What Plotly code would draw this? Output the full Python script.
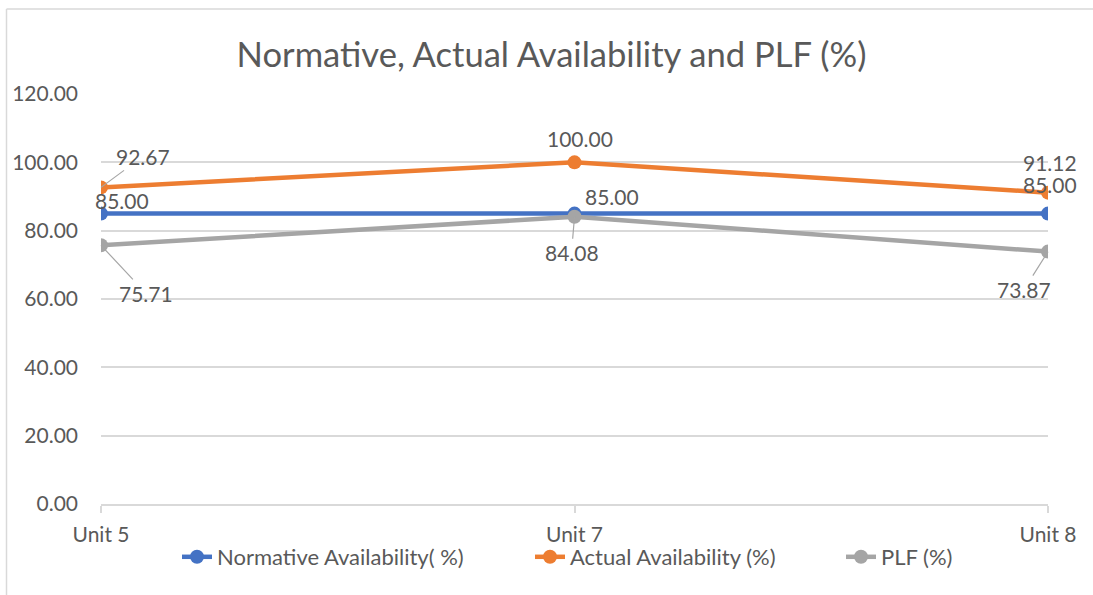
import plotly.graph_objects as go

categories = ["Unit 5", "Unit 7", "Unit 8"]
normative = [85.00, 85.00, 85.00]
actual = [92.67, 100.00, 91.12]
plf = [75.71, 84.08, 73.87]
y_ticks = [0, 20, 40, 60, 80, 100, 120]

FONT = "Lato"
TXT = "#595959"
W, H = 1093, 595
L, R, T, B = 101, 1048, 94, 504

series = [
    ("Normative Availability( %)", normative, "#4472C4"),
    ("Actual Availability (%)", actual, "#ED7D31"),
    ("PLF (%)", plf, "#A5A5A5"),
]
legend_ids = ["legend", "legend2", "legend3"]
legend_text_start = [218, 571, 882]

fig = go.Figure()
for (name, vals, col), lid in zip(series, legend_ids):
    fig.add_trace(go.Scatter(
        x=categories, y=vals, name=name, mode="lines+markers",
        line=dict(color=col, width=4.5),
        marker=dict(color=col, size=14),
        legend=lid,
    ))

# label placement styles: (dx, dy) in pixels (dy down positive), leader line flag
label_style = {
    "Normative Availability( %)": [(21, -13, False), (37, -17, False), (2, -29, False)],
    "Actual Availability (%)": [(42, -31, True), (5, -24, False), (2, -30, False)],
    "PLF (%)": [(45, 48, True), (-3, 36, True), (-24, 38, True)],
}

for name, vals, col in series:
    for i, (cat, v) in enumerate(zip(categories, vals)):
        dx, dy, lead = label_style[name][i]
        if lead:
            fig.add_annotation(
                x=cat, y=v, text=f"{v:.2f}", showarrow=True, arrowhead=0,
                arrowwidth=1.2, arrowcolor="#A6A6A6", ax=dx, ay=dy,
                font=dict(family=FONT, size=21, color=TXT),
                xanchor="center", yanchor="middle", standoff=0,
            )
        else:
            fig.add_annotation(
                x=cat, y=v, text=f"{v:.2f}", showarrow=False,
                xshift=dx, yshift=-dy,
                font=dict(family=FONT, size=21, color=TXT),
                xanchor="center", yanchor="middle",
            )

# outer chart border (partial frame like reference)
def px_x(p):
    return (p - L) / (R - L)

def px_y(p):
    return (B - p) / (B - T)

fig.add_shape(type="line", xref="paper", yref="paper",
              x0=px_x(6.5), x1=px_x(1100), y0=px_y(9), y1=px_y(9),
              line=dict(color="#D9D9D9", width=1.5))
fig.add_shape(type="line", xref="paper", yref="paper",
              x0=px_x(6.5), x1=px_x(6.5), y0=px_y(9), y1=px_y(600),
              line=dict(color="#D9D9D9", width=1.5))

legend_common = dict(orientation="h", xref="container", yref="container",
                     xanchor="left", y=1 - 557 / H, yanchor="middle",
                     bgcolor="rgba(0,0,0,0)",
                     font=dict(family=FONT, size=22, color=TXT))

fig.update_layout(
    width=W, height=H,
    margin=dict(l=L, r=W - R, t=T, b=H - B, autoexpand=False),
    paper_bgcolor="white", plot_bgcolor="white",
    title=dict(text="Normative, Actual Availability and PLF (%)",
               x=551.5 / W, xref="container", xanchor="center",
               y=1 - 55 / H, yref="container", yanchor="middle",
               font=dict(family=FONT, size=34.6, color=TXT)),
    font=dict(family=FONT, color=TXT),
    showlegend=True,
    legend=dict(x=(legend_text_start[0] - 41) / W, **legend_common),
    legend2=dict(x=(legend_text_start[1] - 41) / W, **legend_common),
    legend3=dict(x=(legend_text_start[2] - 41) / W, **legend_common),
    xaxis=dict(type="category", range=[0, 2], showgrid=False,
               showline=True, linecolor="#D9D9D9", linewidth=1.5,
               ticks="outside", ticklen=7, tickcolor="#D9D9D9", tickwidth=1.5,
               ticklabelstandoff=4,
               tickfont=dict(family=FONT, size=21, color=TXT),
               zeroline=False),
    yaxis=dict(range=[0, 120], tickvals=y_ticks,
               ticktext=[f"{t:.2f}" for t in y_ticks],
               showgrid=True, gridcolor="#D9D9D9", gridwidth=1.5,
               zeroline=False, showline=False, ticks="",
               ticklabelstandoff=22,
               tickfont=dict(family=FONT, size=21, color=TXT)),
)

fig.write_html("out.html", config={"displayModeBar": False},
               post_script="document.body.style.margin='0';document.body.style.padding='0';")
